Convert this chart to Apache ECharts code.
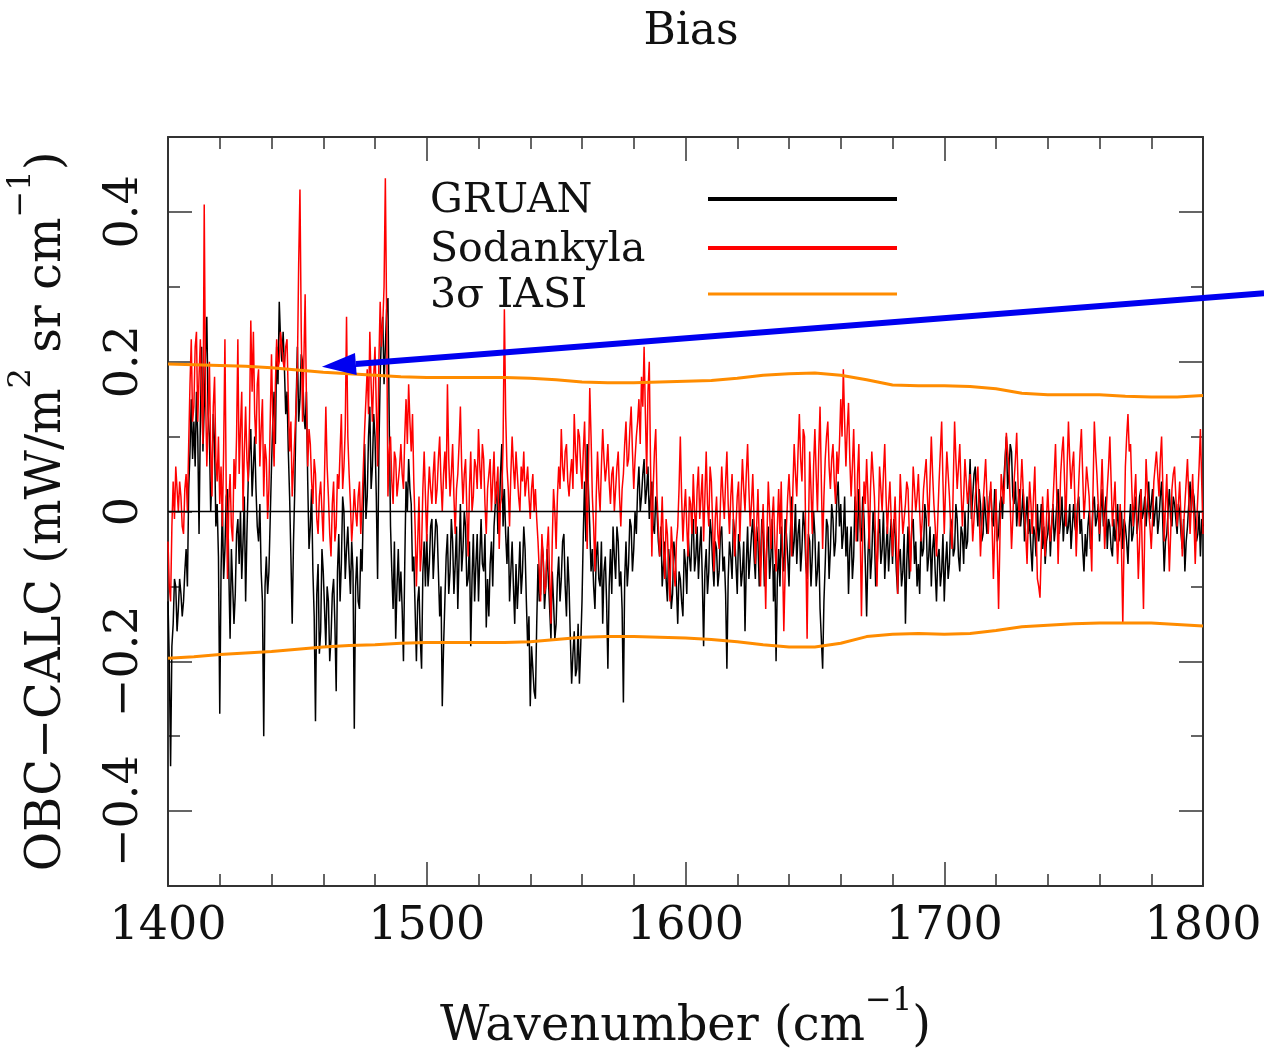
<!DOCTYPE html>
<html>
<head>
<meta charset="utf-8">
<script src="https://cdn.jsdelivr.net/npm/echarts@6/dist/echarts.min.js"></script>
<style>
html,body{margin:0;padding:0;background:#fff;overflow:hidden;}
#chart{width:1264px;height:1052px;}
</style>
</head>
<body>
<div id="chart"></div>
<script>
// ---------------- data ----------------
const WN_START = 1400;   // first wavenumber (cm-1)
const WN_STEP = 0.5;     // sampling of the bias spectra (cm-1)

// GRUAN bias, one row per 10 cm-1 (20 samples)
const GRUAN = [
-0.12,-0.20,-0.34,-0.18,-0.15,-0.09,-0.10,-0.16,-0.13,-0.09,-0.11,-0.14,-0.12,-0.08,-0.05,-0.10,0.03,0.08,0.15,0.07,
0.12,0.06,0.16,0.10,-0.03,0.12,0.22,0.08,0.14,0.21,0.26,0.13,0.10,0.00,0.05,0.13,0.09,-0.02,0.01,-0.06,
-0.27,-0.08,0.01,-0.09,-0.05,0.02,0.03,-0.08,-0.17,-0.05,-0.10,-0.15,-0.11,-0.03,-0.01,-0.07,0.00,-0.09,-0.04,0.02,
-0.12,-0.03,0.04,0.08,0.11,0.02,0.06,0.10,0.03,-0.02,-0.04,0.01,-0.08,-0.12,-0.30,-0.10,-0.06,-0.11,-0.08,-0.01,
0.06,0.12,0.16,0.09,0.22,0.17,0.28,0.23,0.20,0.24,0.19,0.13,0.16,0.08,0.02,-0.06,-0.15,-0.04,0.03,0.14,
0.22,0.12,0.15,0.21,0.20,0.13,0.11,0.16,0.04,-0.05,-0.02,0.03,-0.08,-0.14,-0.28,-0.11,-0.07,-0.19,-0.16,-0.05,
-0.08,-0.13,-0.18,-0.10,-0.12,-0.20,-0.17,-0.11,-0.09,-0.15,-0.24,-0.08,-0.03,-0.12,-0.07,0.02,0.00,-0.09,-0.05,-0.02,
-0.07,-0.11,-0.04,-0.08,-0.29,-0.10,-0.06,-0.12,-0.13,-0.05,-0.08,0.01,0.09,-0.01,0.02,0.10,0.14,0.03,0.06,0.13,
0.10,0.02,-0.09,0.08,0.18,0.24,0.26,0.17,0.22,0.27,0.285,0.12,-0.02,-0.08,-0.13,-0.04,-0.17,-0.10,-0.05,-0.12,
-0.08,-0.13,-0.20,-0.07,0.04,0.00,0.07,0.03,0.01,-0.08,-0.06,-0.13,-0.20,-0.12,-0.10,-0.17,-0.21,-0.08,-0.04,-0.10,
-0.03,-0.10,-0.07,-0.02,-0.01,-0.09,-0.05,-0.01,-0.02,-0.08,-0.14,-0.10,-0.26,-0.18,-0.12,-0.06,-0.03,-0.11,-0.08,-0.01,
-0.04,-0.11,-0.07,-0.02,-0.13,-0.06,0.01,-0.08,-0.05,0.00,-0.02,-0.10,-0.09,-0.04,-0.18,-0.09,-0.03,-0.12,-0.07,-0.03,
-0.12,-0.06,-0.01,-0.07,-0.08,-0.03,-0.155,-0.09,-0.14,-0.07,-0.04,-0.10,-0.02,0.01,0.04,-0.03,-0.01,0.05,0.09,-0.02,
0.03,-0.03,-0.07,-0.02,-0.12,-0.08,-0.04,-0.10,-0.15,-0.07,-0.13,-0.09,-0.04,-0.11,-0.08,-0.02,-0.05,-0.12,-0.18,-0.14,
-0.26,-0.18,-0.21,-0.24,-0.25,-0.15,-0.07,-0.12,-0.11,-0.04,-0.06,-0.13,-0.10,-0.05,-0.09,-0.13,-0.17,-0.08,-0.12,-0.17,
-0.15,-0.09,-0.06,-0.12,-0.09,-0.04,-0.03,-0.10,-0.14,-0.06,-0.10,-0.17,-0.23,-0.19,-0.16,-0.22,-0.21,-0.15,-0.23,-0.18,
-0.12,-0.03,0.04,-0.04,0.09,0.03,-0.02,-0.08,-0.05,-0.10,-0.13,-0.06,-0.04,-0.09,-0.10,-0.04,-0.15,-0.08,-0.06,-0.12,
-0.21,-0.10,-0.05,-0.11,-0.02,-0.06,-0.09,-0.02,-0.04,-0.10,-0.08,-0.13,-0.255,-0.09,-0.04,-0.10,-0.07,-0.01,-0.02,-0.08,
-0.05,0.00,-0.03,0.03,0.06,0.00,0.02,0.05,0.07,0.01,0.03,0.06,-0.01,0.02,0.04,-0.02,-0.03,0.02,0.00,-0.04,
-0.06,-0.02,-0.10,-0.07,-0.04,-0.09,-0.12,-0.05,-0.08,-0.13,-0.11,-0.04,-0.06,-0.10,-0.15,-0.08,-0.09,-0.12,-0.14,-0.05,
-0.07,-0.11,-0.03,-0.06,-0.08,-0.03,-0.01,-0.08,-0.06,-0.02,-0.09,-0.05,-0.02,-0.09,-0.18,-0.08,-0.05,-0.11,-0.08,-0.01,
-0.03,-0.07,-0.10,-0.04,-0.05,-0.10,-0.08,-0.03,-0.02,-0.08,-0.06,-0.11,-0.21,-0.09,-0.04,-0.06,-0.09,-0.01,-0.03,-0.07,
-0.11,-0.03,-0.05,-0.10,-0.08,-0.04,-0.16,-0.07,-0.02,-0.09,-0.06,-0.03,-0.01,-0.06,-0.09,-0.02,-0.04,-0.10,-0.07,-0.01,
-0.03,-0.10,-0.08,-0.04,-0.02,-0.09,-0.06,-0.01,-0.12,-0.07,-0.20,-0.09,-0.05,-0.10,-0.02,-0.06,-0.08,-0.01,-0.03,-0.06,
-0.10,-0.03,0.02,-0.06,-0.04,0.01,-0.07,-0.03,-0.01,-0.08,-0.05,0.00,-0.02,-0.07,-0.09,-0.03,-0.04,-0.10,-0.06,0.00,
-0.03,-0.10,-0.08,-0.04,-0.13,-0.17,-0.21,-0.12,-0.07,-0.01,-0.02,-0.09,-0.05,0.01,-0.01,-0.06,-0.04,0.02,0.04,-0.02,
0.01,-0.05,-0.03,0.02,-0.06,-0.02,-0.11,-0.05,-0.02,-0.09,-0.06,0.02,0.00,-0.04,0.03,-0.02,-0.04,0.02,-0.01,-0.07,
-0.14,-0.06,-0.02,-0.09,-0.06,0.00,-0.03,-0.10,-0.08,-0.03,-0.01,-0.07,-0.05,0.00,-0.09,-0.05,-0.02,-0.08,-0.04,-0.01,
-0.07,-0.01,-0.03,-0.08,-0.11,-0.06,-0.05,-0.10,-0.08,-0.03,-0.15,-0.07,-0.02,-0.09,-0.06,-0.02,-0.01,-0.07,-0.04,-0.10,
-0.07,-0.11,-0.02,-0.06,-0.05,0.01,-0.01,-0.08,-0.06,-0.02,-0.10,-0.05,-0.03,-0.08,-0.12,-0.06,-0.05,-0.10,-0.08,-0.03,
-0.12,-0.07,-0.04,-0.09,-0.07,-0.01,-0.02,-0.06,-0.05,0.01,-0.01,-0.06,-0.08,-0.02,-0.03,-0.07,0.00,-0.05,-0.04,0.02,
0.07,-0.01,0.02,0.05,0.06,0.01,-0.02,0.03,0.01,-0.04,-0.03,0.02,0.02,-0.03,-0.01,0.02,0.03,-0.01,-0.02,0.03,
0.01,-0.04,-0.03,0.01,0.02,-0.01,0.04,0.07,0.10,0.03,0.05,0.09,0.08,0.02,0.01,0.04,-0.02,0.01,0.03,-0.02,
0.00,0.03,-0.04,-0.01,0.02,-0.03,-0.01,-0.05,-0.08,-0.02,-0.03,-0.06,0.01,-0.04,-0.02,0.01,-0.05,-0.02,-0.07,-0.04,
-0.03,0.00,-0.06,-0.02,0.01,-0.04,-0.02,0.01,0.03,-0.03,-0.01,0.02,-0.04,-0.01,0.02,-0.03,-0.02,0.01,-0.05,-0.02,
0.01,-0.02,-0.03,0.01,0.02,-0.03,-0.01,-0.05,-0.08,-0.03,-0.06,-0.02,0.00,-0.05,-0.03,0.01,0.02,-0.02,-0.01,0.01,
-0.04,0.00,0.03,-0.02,0.00,0.02,-0.05,-0.01,-0.02,-0.05,-0.06,-0.01,-0.04,-0.02,0.01,-0.04,-0.03,0.00,-0.05,-0.01,
-0.02,-0.04,-0.07,-0.02,0.01,-0.04,-0.03,0.00,0.02,-0.03,-0.01,0.02,0.03,-0.01,0.00,0.02,-0.02,0.01,0.04,-0.01,
0.01,0.03,-0.02,0.00,0.02,-0.03,-0.01,0.02,0.04,-0.02,-0.08,-0.04,-0.03,0.00,0.03,-0.01,-0.02,0.02,0.01,-0.01,
-0.03,0.01,0.00,-0.03,-0.05,-0.01,-0.08,-0.04,-0.02,0.01,0.04,0.00,0.03,0.02,-0.01,-0.04,-0.03,0.00,-0.06,-0.01,
-0.02
];

// Sodankyla bias, one row per 10 cm-1 (20 samples)
const SODANKYLA = [
-0.04,-0.10,-0.12,-0.02,0.04,-0.01,0.06,0.03,0.00,0.04,0.02,-0.02,-0.03,0.03,0.05,0.00,0.09,0.17,0.23,0.12,
0.14,0.22,0.24,0.12,0.18,0.23,0.15,0.09,0.41,0.16,0.06,0.12,0.20,0.08,0.02,0.14,0.18,0.07,0.04,0.10,
0.01,0.06,-0.02,0.08,0.23,0.03,-0.09,0.01,0.05,-0.02,-0.04,0.07,0.03,0.10,0.23,0.05,0.11,0.16,0.00,0.08,
0.14,0.07,0.04,0.12,0.255,0.16,0.24,0.13,0.09,0.17,0.19,0.06,0.11,0.15,0.02,0.09,0.07,-0.01,0.03,0.12,
0.21,0.12,0.06,0.17,0.23,0.19,0.20,0.24,0.22,0.20,0.19,0.22,0.23,0.15,0.08,0.12,0.02,0.06,0.10,0.14,
0.19,0.33,0.43,0.24,0.12,0.20,0.29,0.15,0.06,0.11,0.09,0.04,0.01,0.07,0.05,-0.01,-0.03,0.02,0.04,0.00,
-0.04,0.05,0.14,0.06,0.02,-0.03,-0.06,0.01,0.04,-0.04,-0.02,0.05,0.03,0.08,0.13,0.03,0.06,0.11,0.26,0.10,
0.05,0.01,-0.04,-0.01,0.03,0.00,-0.02,0.02,0.04,-0.03,0.01,0.06,0.11,0.15,0.19,0.13,0.24,0.17,0.12,0.18,
0.22,0.14,0.06,0.20,0.28,0.22,0.25,0.30,0.445,0.26,0.02,0.08,0.10,0.04,0.01,0.08,0.07,0.02,0.04,0.06,
0.09,0.05,0.03,0.10,0.15,0.09,0.17,0.12,0.08,0.13,0.04,-0.02,-0.10,-0.04,0.02,-0.08,-0.05,0.03,0.08,0.02,
-0.04,0.02,0.06,0.03,0.01,0.05,0.08,0.01,0.03,0.07,0.10,0.04,0.00,0.05,0.08,0.03,0.17,0.07,0.02,0.05,
0.09,0.02,-0.03,0.03,0.05,0.09,0.14,0.06,0.01,0.05,0.07,0.00,-0.06,0.03,0.08,0.00,0.02,0.07,0.06,0.03,
0.11,0.06,0.03,0.09,0.07,0.01,-0.03,0.03,0.05,0.07,0.00,0.04,0.08,0.01,0.03,0.06,-0.05,0.01,0.02,0.09,
0.27,0.13,0.06,0.03,-0.02,0.05,0.10,0.06,0.03,0.08,0.05,0.02,0.00,0.06,0.04,0.08,0.02,0.04,0.06,0.02,
-0.01,0.03,0.05,0.00,0.03,-0.01,-0.04,-0.08,-0.12,-0.03,-0.06,-0.11,-0.10,-0.05,-0.02,-0.09,-0.15,-0.04,0.03,0.00,
-0.05,0.02,0.06,0.03,0.11,0.06,0.04,0.08,0.09,0.04,0.02,0.05,0.07,0.03,0.13,0.08,0.05,0.11,0.10,0.06,
0.03,0.08,0.12,0.04,-0.05,0.06,0.165,0.10,0.02,-0.02,-0.08,0.02,0.08,0.03,0.00,0.06,0.11,0.07,0.04,0.06,
0.09,0.04,0.01,0.05,0.06,0.00,0.03,0.06,0.08,0.02,-0.02,0.03,0.05,0.09,0.12,0.06,0.07,0.11,0.14,0.08,
0.03,0.07,0.10,0.12,0.15,0.09,0.18,0.14,0.22,0.13,0.05,0.16,0.20,0.06,-0.06,0.03,0.08,0.11,0.02,-0.02,
-0.06,-0.03,0.02,-0.05,-0.09,-0.01,-0.03,-0.08,-0.12,-0.02,-0.05,-0.08,-0.10,-0.04,-0.02,0.03,0.10,0.02,-0.04,0.00,
0.03,-0.02,-0.06,0.02,0.01,-0.03,0.05,0.00,-0.03,0.03,0.06,-0.01,0.02,0.05,-0.04,0.02,0.08,0.01,-0.02,0.06,
0.04,-0.02,-0.08,-0.01,0.02,-0.03,-0.05,0.01,0.06,0.02,-0.01,0.04,0.08,0.01,-0.03,0.02,0.05,-0.01,-0.06,-0.02,
0.02,0.04,-0.04,0.02,0.07,0.03,0.00,0.05,0.09,0.03,-0.02,0.01,0.05,-0.01,-0.07,-0.02,0.03,-0.04,-0.10,-0.03,
0.01,-0.05,-0.13,-0.03,0.04,0.00,-0.05,-0.01,0.02,-0.04,-0.08,-0.02,0.03,-0.03,0.04,-0.06,-0.16,-0.08,-0.02,0.02,
0.05,0.01,-0.06,0.03,0.09,0.05,0.02,0.08,0.13,0.07,0.04,0.11,0.10,-0.05,-0.17,-0.03,0.08,0.03,-0.03,0.06,
0.11,0.05,0.00,0.08,0.14,0.04,-0.05,0.02,0.07,0.10,0.12,0.06,0.03,0.07,0.09,0.04,0.01,0.08,0.05,0.09,
0.15,0.10,0.19,0.12,0.06,0.11,0.145,0.07,0.02,0.06,0.11,0.03,-0.04,0.05,0.09,-0.02,-0.14,-0.03,0.04,0.01,
0.07,0.02,-0.05,0.03,0.08,0.05,0.02,-0.04,-0.10,-0.02,0.06,0.03,0.00,0.05,0.09,0.02,-0.03,0.01,0.04,-0.01,
-0.06,-0.02,0.02,-0.04,-0.11,-0.03,0.05,0.01,-0.03,-0.01,0.01,0.04,0.03,-0.03,-0.08,-0.01,0.06,0.03,0.00,0.02,
0.05,0.00,-0.04,-0.01,0.03,0.05,0.07,0.02,-0.02,0.04,0.10,0.05,0.01,-0.02,-0.06,-0.01,0.04,0.08,0.12,0.04,
-0.03,0.03,0.08,0.05,0.02,-0.02,-0.05,0.04,0.12,0.07,0.03,0.06,0.09,0.03,-0.02,0.02,0.07,0.04,0.01,0.03,
0.05,0.01,-0.04,-0.01,0.02,0.04,0.06,0.00,-0.06,-0.02,0.01,0.04,0.07,0.02,-0.03,0.01,0.04,-0.02,-0.09,-0.03,
0.03,-0.05,-0.13,-0.04,0.05,0.03,0.01,0.06,0.105,0.08,0.06,0.01,-0.05,-0.01,0.04,0.07,0.105,0.04,-0.02,0.03,
0.07,0.03,0.00,-0.03,-0.07,-0.01,0.04,0.01,-0.03,0.02,0.06,-0.02,-0.09,-0.10,-0.115,-0.05,0.02,-0.02,-0.06,-0.01,
0.03,-0.01,-0.04,-0.02,0.01,0.05,0.09,0.02,-0.07,-0.01,0.05,0.08,0.10,0.04,-0.02,0.06,0.12,0.07,0.03,0.06,
0.08,0.01,-0.06,-0.01,0.04,0.08,0.11,0.05,-0.01,0.02,0.06,0.04,0.02,-0.03,-0.08,0.03,0.12,0.08,0.05,0.01,
-0.03,0.02,0.07,0.01,-0.05,-0.01,0.03,0.06,0.10,0.04,-0.02,0.01,0.04,-0.02,-0.07,-0.03,0.01,-0.05,-0.15,-0.04,
0.06,0.10,0.13,0.08,0.09,0.03,-0.02,0.02,0.05,-0.02,-0.09,-0.04,0.03,-0.05,-0.13,-0.02,0.07,0.03,0.00,-0.02,
-0.05,-0.01,0.04,0.06,0.08,0.05,0.02,0.07,0.10,0.03,-0.04,0.01,0.05,-0.02,-0.08,-0.03,0.03,0.05,0.06,0.02,
-0.02,0.01,0.04,-0.01,-0.06,-0.02,0.01,0.04,0.07,0.02,-0.03,0.01,0.05,-0.01,-0.07,-0.02,0.02,0.06,0.11,0.04,
-0.03
];

// 3-sigma IASI envelope (10 cm-1 grid)
const SIGMA_WN = [1400,1410,1420,1430,1440,1450,1460,1470,1480,1490,
  1500,1510,1520,1530,1540,1550,1560,1570,1580,1590,
  1600,1610,1620,1630,1640,1650,1660,1670,1680,1690,
  1700,1710,1720,1730,1740,1750,1760,1770,1780,1790,1800];
const SIGMA3_UPPER = [0.197,0.196,0.195,0.194,0.192,0.189,0.186,0.184,0.182,0.180,
  0.179,0.179,0.179,0.179,0.178,0.176,0.173,0.172,0.172,0.173,
  0.174,0.175,0.178,0.182,0.184,0.185,0.182,0.176,0.169,0.168,
  0.168,0.167,0.164,0.158,0.156,0.156,0.156,0.154,0.153,0.153,0.155];
const SIGMA3_LOWER = [-0.196,-0.194,-0.191,-0.189,-0.187,-0.184,-0.181,-0.179,-0.178,-0.176,
  -0.175,-0.175,-0.175,-0.175,-0.174,-0.171,-0.168,-0.167,-0.167,-0.168,
  -0.169,-0.171,-0.174,-0.178,-0.181,-0.181,-0.176,-0.167,-0.164,-0.163,
  -0.164,-0.163,-0.159,-0.154,-0.152,-0.150,-0.149,-0.149,-0.149,-0.151,-0.153];

const Y_MAJOR_TICKS = [-0.4, -0.2, 0, 0.2, 0.4];
const LEGEND_NAMES = ['GRUAN', 'Sodankyla', '3\u03c3 IASI'];
// annotation arrow, in data coordinates [wavenumber, bias]
const ARROW_TAIL = [1823.6, 0.2913];
const ARROW_TIP = [1459.5, 0.1933];

// ---------------- chart ----------------
const FONT = 'DejaVu Serif';
const AXIS_COLOR = '#333';
const BLACK = '#000000', RED = '#ff0000', ORANGE = '#ff8c00', BLUE = '#0000f0';

const toPairs = (arr) => arr.map((v, i) => [WN_START + i * WN_STEP, v]);
const sigmaPairs = (arr) => arr.map((v, i) => [SIGMA_WN[i], v]);
const fmt = (v) => v < 0 ? '\u2212' + Math.abs(v) : String(v);

const chart = echarts.init(document.getElementById('chart'), null, {renderer: 'canvas'});

const baseX = {
  type: 'value', min: 1400, max: 1800, interval: 100,
  axisLine: {show: true, onZero: false, lineStyle: {color: AXIS_COLOR, width: 2}},
  axisTick: {show: true, inside: true, length: 24, lineStyle: {color: AXIS_COLOR, width: 1.5}},
  minorTick: {show: true, splitNumber: 5, length: 12, lineStyle: {color: AXIS_COLOR, width: 1.5}},
  splitLine: {show: false}, minorSplitLine: {show: false}
};
const baseYMinor = {
  type: 'value', min: -0.5, max: 0.5, interval: 0.1,
  axisLine: {show: true, onZero: false, lineStyle: {color: AXIS_COLOR, width: 2}},
  axisTick: {show: true, inside: true, length: 12, lineStyle: {color: AXIS_COLOR, width: 1.5}},
  axisLabel: {show: false},
  splitLine: {show: false}
};
const baseYMajor = {
  type: 'value', min: -0.5, max: 0.5,
  axisLine: {show: false, onZero: false},
  axisTick: {show: true, inside: true, length: 24, customValues: Y_MAJOR_TICKS, lineStyle: {color: AXIS_COLOR, width: 1.5}},
  axisLabel: {show: false},
  splitLine: {show: false}
};
const nameRich = {
  n: {fontFamily: FONT, fontSize: 48, color: '#111', lineHeight: 66, verticalAlign: 'bottom'},
  s: {fontFamily: FONT, fontSize: 32, color: '#111', lineHeight: 34, verticalAlign: 'top'}
};

const option = {
  animation: false,
  backgroundColor: '#ffffff',
  title: {
    text: 'Bias', left: 686, top: 6, textAlign: 'center',
    textStyle: {fontFamily: FONT, fontSize: 44, fontWeight: 'normal', color: '#111'}
  },
  grid: {left: 168, top: 137, right: 61, bottom: 166, containLabel: false, outerBoundsMode: 'none'},
  xAxis: [
    Object.assign({}, baseX, {
      position: 'bottom',
      axisLabel: {show: true, margin: 18, fontFamily: FONT, fontSize: 46, color: '#111',
        formatter: (v) => String(v)},
      name: '{n|Wavenumber (cm}{s|\u22121}{n|)}',
      nameLocation: 'middle', nameGap: 100,
      nameTextStyle: {fontFamily: FONT, color: '#111', rich: nameRich}
    }),
    Object.assign({}, baseX, {position: 'top', axisLabel: {show: false}})
  ],
  yAxis: [
    Object.assign({}, baseYMinor, {
      position: 'left',
      name: '{n|OBC\u2212CALC (mW/m}{s|2}{n| sr cm}{s|\u22121}{n|)}',
      nameLocation: 'middle', nameGap: 96, nameRotate: 90,
      nameTextStyle: {fontFamily: FONT, color: '#111', rich: nameRich}
    }),
    Object.assign({}, baseYMajor, {
      position: 'left',
      axisLabel: {show: true, customValues: Y_MAJOR_TICKS, rotate: 90, margin: 20,
        fontFamily: FONT, fontSize: 46, color: '#111', formatter: fmt}
    }),
    Object.assign({}, baseYMinor, {position: 'right'}),
    Object.assign({}, baseYMajor, {position: 'right'})
  ],
  series: [
    {
      name: LEGEND_NAMES[0], type: 'line', data: toPairs(GRUAN),
      xAxisIndex: 0, yAxisIndex: 0, symbol: 'none', silent: true, z: 2,
      lineStyle: {color: BLACK, width: 1.5}
    },
    {
      name: LEGEND_NAMES[1], type: 'line', data: toPairs(SODANKYLA),
      xAxisIndex: 0, yAxisIndex: 0, symbol: 'none', silent: true, z: 3,
      lineStyle: {color: RED, width: 1.5}
    },
    {
      name: LEGEND_NAMES[2], type: 'line', data: sigmaPairs(SIGMA3_UPPER),
      xAxisIndex: 0, yAxisIndex: 0, symbol: 'none', silent: true, z: 4,
      lineStyle: {color: ORANGE, width: 3},
      markLine: {
        silent: true, symbol: 'none', label: {show: false},
        lineStyle: {color: '#000', width: 1.3, type: 'solid'},
        data: [{yAxis: 0}]
      }
    },
    {
      name: LEGEND_NAMES[2] + ' lower', type: 'line', data: sigmaPairs(SIGMA3_LOWER),
      xAxisIndex: 0, yAxisIndex: 0, symbol: 'none', silent: true, z: 4,
      lineStyle: {color: ORANGE, width: 3}
    }
  ]
};
chart.setOption(option);

// legend (text left, sample line right, inside the plot) and annotation arrow
const legendY = [199, 248, 294];
const legendColors = [BLACK, RED, ORANGE];
const legendWidths = [4, 4, 3];
const graphics = [];
LEGEND_NAMES.forEach((name, i) => {
  graphics.push({
    type: 'text', left: 430, top: legendY[i] - 18, silent: true, z: 10,
    style: {text: name, fontFamily: FONT, fontSize: 41, fill: '#111'}
  });
  graphics.push({
    type: 'line', silent: true, z: 10,
    shape: {x1: 708, y1: legendY[i], x2: 897, y2: legendY[i]},
    style: {stroke: legendColors[i], lineWidth: legendWidths[i]}
  });
});
const tail = chart.convertToPixel({xAxisIndex: 0, yAxisIndex: 0}, ARROW_TAIL);
const tip = chart.convertToPixel({xAxisIndex: 0, yAxisIndex: 0}, ARROW_TIP);
const ang = Math.atan2(tip[1] - tail[1], tip[0] - tail[0]);
const headLen = 34, headHalf = 11;
const bx = tip[0] - headLen * Math.cos(ang), by = tip[1] - headLen * Math.sin(ang);
const px = -Math.sin(ang), py = Math.cos(ang);
graphics.push({
  type: 'line', silent: true, z: 11,
  shape: {x1: tail[0], y1: tail[1], x2: bx, y2: by},
  style: {stroke: BLUE, lineWidth: 6}
});
graphics.push({
  type: 'polygon', silent: true, z: 11,
  shape: {points: [[tip[0], tip[1]], [bx + px * headHalf, by + py * headHalf], [bx - px * headHalf, by - py * headHalf]]},
  style: {fill: BLUE}
});
chart.setOption({graphic: graphics});
</script>
</body>
</html>
